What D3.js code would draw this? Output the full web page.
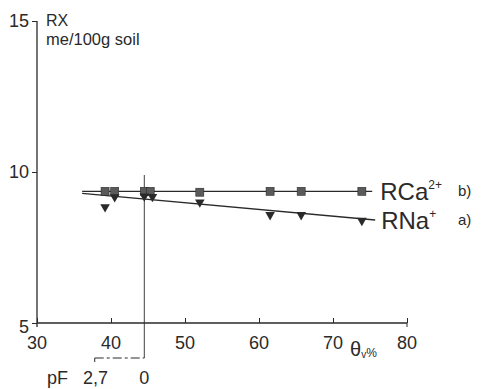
<!DOCTYPE html>
<html>
<head>
<meta charset="utf-8">
<script src="https://cdn.jsdelivr.net/npm/d3@7"></script>
<style>
  body { margin: 0; background: #fff; }
  svg text { font-family: "Liberation Sans", sans-serif; fill: #2a2a2a; }
</style>
</head>
<body>
<div id="chart"></div>
<script>
// x: volumetric water content θv (%), y: RX in me/100g soil
const xTicks = [30, 40, 50, 60, 70, 80];
const yTicks = [5, 10, 15];

const caTheta = [39.2, 40.5, 44.5, 45.3, 52, 61.5, 65.7, 73.9];
const caValue = [9.36, 9.36, 9.36, 9.36, 9.33, 9.36, 9.36, 9.36];
const naTheta = [39.2, 40.5, 44.5, 45.6, 52, 61.5, 65.7, 73.9];
const naValue = [8.84, 9.17, 9.2, 9.18, 9.0, 8.58, 8.58, 8.39];

// fitted lines (start and end)
const caFitX = [36.1, 75.3];
const caFitY = [9.36, 9.36];
const naFitX = [36.1, 75.7];
const naFitY = [9.29, 8.41];

const saturation = 44.5; // pF 0
const pfDry = 37.8;      // pF 2.7

const width = 494, height = 389;
const svg = d3.select("#chart").append("svg")
    .attr("width", width)
    .attr("height", height);

const x = d3.scaleLinear().domain([30, 80]).range([37, 407]);
const y = d3.scaleLinear().domain([5, 15]).range([323, 21]);
const ink = "#2a2a2a";

// y axis
const yAxis = svg.append("g")
    .attr("transform", `translate(${x(30)},0)`)
    .call(d3.axisLeft(y).tickValues(yTicks).tickSize(5).tickPadding(3));
yAxis.select(".domain").remove();
yAxis.selectAll("line").attr("stroke", ink);
yAxis.selectAll("text").attr("font-size", 18).attr("fill", ink);
yAxis.selectAll(".tick").filter(d => d === 5).select("text").attr("dy", "0.55em");
svg.append("line")
    .attr("x1", x(30)).attr("x2", x(30))
    .attr("y1", y(15)).attr("y2", y(5) + 4)
    .attr("stroke", ink).attr("stroke-width", 1.3);

// x axis
const xAxis = svg.append("g")
    .attr("transform", `translate(0,${y(5)})`)
    .call(d3.axisTop(x).tickValues(xTicks).tickSize(5).tickFormat(""));
xAxis.select(".domain").remove();
xAxis.selectAll("line").attr("stroke", ink);
svg.append("line")
    .attr("x1", x(30)).attr("x2", x(80))
    .attr("y1", y(5)).attr("y2", y(5))
    .attr("stroke", ink).attr("stroke-width", 1.3);
svg.append("line")
    .attr("x1", x(80)).attr("x2", x(80))
    .attr("y1", y(5)).attr("y2", y(5) + 4)
    .attr("stroke", ink);
svg.append("g").selectAll("text")
    .data(xTicks)
    .join("text")
    .attr("x", d => x(d))
    .attr("y", y(5) + 26)
    .attr("text-anchor", "middle")
    .attr("font-size", 18)
    .text(d => d);

// axis titles
svg.append("text").attr("x", 46).attr("y", 26).attr("font-size", 16).text("RX");
svg.append("text").attr("x", 46).attr("y", 45).attr("font-size", 16.5).text("me/100g soil");
const theta = svg.append("text").attr("x", 350).attr("y", 356).attr("font-size", 20);
theta.append("tspan").text("θ");
theta.append("tspan").attr("font-size", 10).attr("dy", 2).text("v");
theta.append("tspan").attr("font-size", 12).attr("dy", -1).text("%");

// saturation line and pF bracket
svg.append("line")
    .attr("x1", x(saturation)).attr("x2", x(saturation))
    .attr("y1", y(9.9)).attr("y2", 358)
    .attr("stroke", ink).attr("stroke-width", 0.9);
svg.append("line")
    .attr("x1", x(pfDry)).attr("x2", x(saturation))
    .attr("y1", 358).attr("y2", 358)
    .attr("stroke", ink).attr("stroke-dasharray", "9,3,3,3");
svg.append("line")
    .attr("x1", x(pfDry)).attr("x2", x(pfDry))
    .attr("y1", 358).attr("y2", 362)
    .attr("stroke", ink);
svg.append("text").attr("x", 47).attr("y", 384).attr("font-size", 18).text("pF");
svg.append("text").attr("x", 83).attr("y", 384).attr("font-size", 18).text("2,7");
svg.append("text").attr("x", x(saturation)).attr("y", 384)
    .attr("text-anchor", "middle").attr("font-size", 18).text("0");

// fitted lines
const line = d3.line().x(d => x(d[0])).y(d => y(d[1]));
svg.append("path")
    .attr("d", line(d3.zip(caFitX, caFitY)))
    .attr("fill", "none").attr("stroke", ink).attr("stroke-width", 1.3);
svg.append("path")
    .attr("d", line(d3.zip(naFitX, naFitY)))
    .attr("fill", "none").attr("stroke", ink).attr("stroke-width", 1.3);

// markers
const markFill = "#5a5a5a";
svg.append("g").selectAll("rect")
    .data(d3.zip(caTheta, caValue))
    .join("rect")
    .attr("x", d => x(d[0]) - 4)
    .attr("y", d => y(d[1]) - 4)
    .attr("width", 8).attr("height", 8)
    .attr("fill", markFill).attr("stroke", ink).attr("stroke-width", 0.6);
const tri = d3.symbol().type(d3.symbolTriangle).size(40);
svg.append("g").selectAll("path")
    .data(d3.zip(naTheta, naValue))
    .join("path")
    .attr("d", tri)
    .attr("transform", d => `translate(${x(d[0])},${y(d[1])}) rotate(180)`)
    .attr("fill", ink);

// series labels
const caLabel = svg.append("text").attr("x", x(75.3) + 8).attr("y", y(9.36) + 9).attr("font-size", 24);
caLabel.append("tspan").text("RCa");
caLabel.append("tspan").attr("font-size", 12).attr("dy", -11).text("2+");
svg.append("text").attr("x", 458).attr("y", y(9.36) + 5).attr("font-size", 15).text("b)");
const naLabel = svg.append("text").attr("x", x(75.7) + 6).attr("y", y(8.41) + 9).attr("font-size", 24);
naLabel.append("tspan").text("RNa");
naLabel.append("tspan").attr("font-size", 12).attr("dy", -11).text("+");
svg.append("text").attr("x", 458).attr("y", y(8.41) + 5).attr("font-size", 15).text("a)");
</script>
</body>
</html>
